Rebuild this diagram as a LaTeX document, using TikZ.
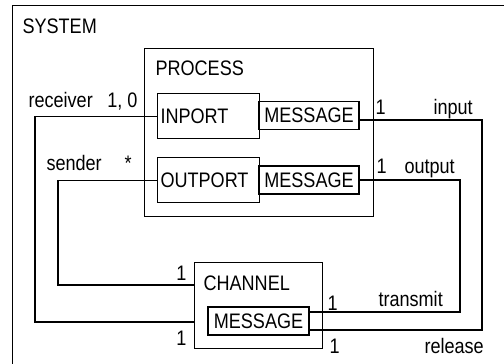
\documentclass[tikz,border=0pt]{standalone}
\usepackage{fontspec}
\setmainfont[FakeStretch=0.86]{Liberation Sans}

\begin{document}
\begin{tikzpicture}[x=1pt,y=-1pt,line width=1.1pt,
  every node/.style={font=\fontsize{21}{25}\selectfont},
  lbl/.style={inner sep=0pt,anchor=base west},
  lblr/.style={inner sep=0pt,anchor=base east},
  frame/.style={draw,anchor=north west,inner sep=0pt},
  portbox/.style={draw,anchor=north west,text width=96pt,align=left,inner sep=3pt,minimum height=45pt},
  msgbox/.style={draw,minimum width=100pt,minimum height=28pt,inner sep=1pt}]
  \path[use as bounding box,clip] (0,0) rectangle (504,364);
  \node[frame,minimum width=520pt,minimum height=380pt] (system) at (12,5) {};
  \node[frame,minimum width=229pt,minimum height=168pt] (process) at (144,48) {};
  \node[frame,minimum width=128pt,minimum height=86pt] (channel) at (194,262) {};
  \node[lbl] (systemname) at (22,33) {SYSTEM};
  \node[lbl] (processname) at (155,75) {PROCESS};
  \node[lbl] (channelname) at (203,290) {CHANNEL};
  \node[portbox] (inport) at (157,93) {INPORT};
  \node[portbox] (outport) at (157,157) {OUTPORT};
  \node[msgbox] (msga) at (309,115.5) {MESSAGE};
  \node[msgbox] (msgb) at (309,180) {MESSAGE};
  \node[msgbox,minimum width=101pt] (msgc) at (258.5,321) {MESSAGE};
  \coordinate (rcv) at (35,322);
  \coordinate (snd) at (58,285);
  \coordinate (inp) at (482,120);
  \coordinate (rel) at (482,330);
  \coordinate (outp) at (460,180);
  \coordinate (trn) at (460,312);
  \draw (inport.west) -| (rcv) -- (channel.west |- rcv);
  \draw (outport.west) -| (snd) -- (channel.west |- snd);
  \draw (msga.east |- inp) -- (inp) -- (rel) -- (msgc.east |- rel);
  \draw (msgb.east) -- (outp) -- (trn) -- (msgc.east |- trn);
  \node[lbl] (receiver) at (28,107) {receiver};
  \node[lblr] (rcvmult) at (138,107) {1, 0};
  \node[lbl] (sender) at (46,170) {sender};
  \node[lbl] (sndmult) at (124,170) {*};
  \node[lbl] (inpmult) at (375,114) {1};
  \node[lbl] (input) at (433,114) {input};
  \node[lbl] (outpmult) at (376,173) {1};
  \node[lbl] (output) at (404,173) {output};
  \node[lblr] (chsnd) at (187,280) {1};
  \node[lblr] (chrcv) at (187,345) {1};
  \node[lbl] (chtrn) at (327,310) {1};
  \node[lbl] (chrel) at (329,353) {1};
  \node[lbl] (transmit) at (378,306) {transmit};
  \node[lbl] (release) at (424,353) {release};
\end{tikzpicture}
\end{document}
